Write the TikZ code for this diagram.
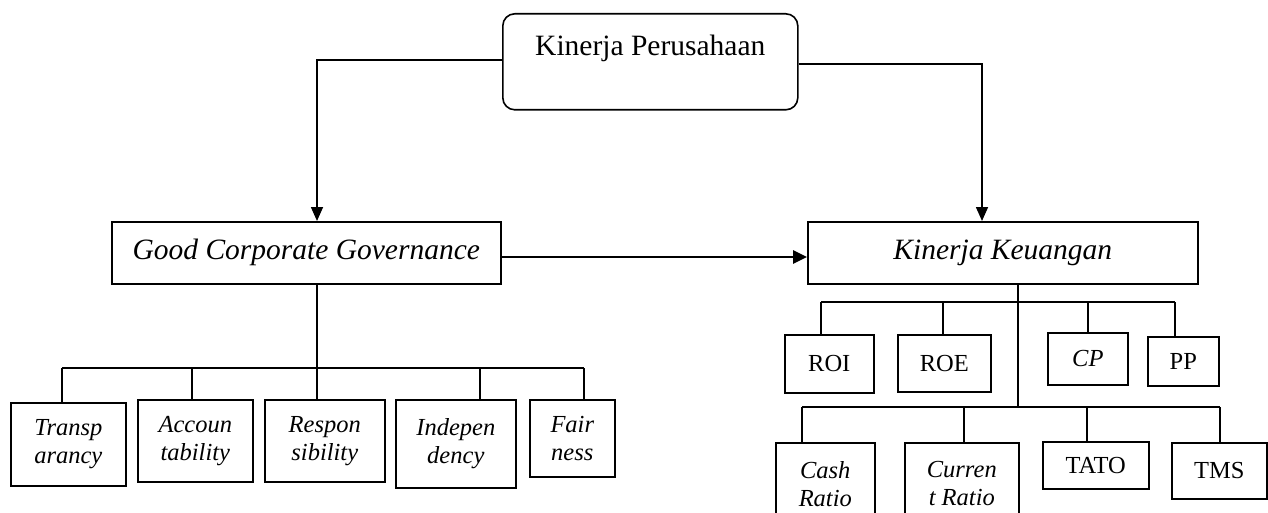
\documentclass[tikz,border=0pt]{standalone}
\usepackage{fontspec}
\setmainfont{Liberation Serif}
\usetikzlibrary{arrows.meta}
\begin{document}
\begin{tikzpicture}[x=1pt,y=-1pt,
  box/.style={draw, line width=1.6pt, inner sep=0pt, anchor=north west, align=center,
    font=\fontsize{24.5}{28}\selectfont},
  itbox/.style={box, font=\fontsize{24.5}{28}\selectfont\itshape},
  big/.style={box, font=\fontsize{29.5}{34}\selectfont\itshape},
  conn/.style={line width=1.6pt},
  arr/.style={conn, -{Triangle[length=14pt,width=12pt]}},
  thickarr/.style={line width=2.6pt, -{Triangle[length=14pt,width=13pt]}},
]
\useasboundingbox (0,0) rectangle (1268,513);
\clip (0,0) rectangle (1268,513);

% top
\node[box, rounded corners=12pt, minimum width=295pt, text height=42pt, text depth=54pt,
  font=\fontsize{29.5}{34}\selectfont] (kp) at (502,13) {Kinerja Perusahaan};
\node[big, minimum width=389pt, minimum height=62pt] (gcg) at (111,221) {Good Corporate Governance};
\node[big, minimum width=390pt, minimum height=62pt] (kk) at (807,221) {Kinerja Keuangan};

% GCG children
\node[itbox, minimum width=115pt, minimum height=83pt] (t1) at (10,402) {Transp\\arancy};
\node[itbox, minimum width=115pt, minimum height=82pt] (t2) at (137,399) {Accoun\\tability};
\node[itbox, minimum width=120pt, minimum height=82pt] (t3) at (264,399) {Respon\\sibility};
\node[itbox, minimum width=120pt, minimum height=88pt] (t4) at (395,399) {Indepen\\dency};
\node[itbox, minimum width=85pt, minimum height=77pt] (t5) at (529,399) {Fair\\ness};

% KK children
\node[box, minimum width=89pt, minimum height=58pt] (roi) at (784,334) {ROI};
\node[box, minimum width=93pt, minimum height=57pt] (roe) at (897,334) {ROE};
\node[itbox, minimum width=80pt, minimum height=52pt] (cp) at (1047,332) {CP};
\node[box, minimum width=71pt, minimum height=49pt] (pp) at (1147,336) {PP};
\node[itbox, minimum width=99pt, minimum height=82pt] (cash) at (775,442) {Cash\\Ratio};
\node[itbox, minimum width=114pt, minimum height=82pt] (curr) at (904,442) {Curren\\t Ratio};
\node[box, minimum width=106pt, minimum height=47pt] (tato) at (1042,441) {TATO};
\node[box, minimum width=95pt, minimum height=56pt] (tms) at (1171,442) {TMS};

% junction coordinates
\coordinate (kl) at (317,60);
\coordinate (kr) at (982,64);
\coordinate (ga) at (500,257);
\coordinate (gj) at (317,368);
\coordinate (g1) at (62,368);
\coordinate (g2) at (192,368);
\coordinate (g4) at (480,368);
\coordinate (g5) at (584,368);
\coordinate (kj1) at (1018,302);
\coordinate (kj2) at (1018,407);
\coordinate (a1) at (821,302);
\coordinate (a2) at (943,302);
\coordinate (a3) at (1088,302);
\coordinate (a4) at (1175,302);
\coordinate (b1) at (802,407);
\coordinate (b2) at (964,407);
\coordinate (b3) at (1087,407);
\coordinate (b4) at (1220,407);

% connectors from top
\draw[arr] (kp.west |- kl) -- (kl) -- (gcg.north -| kl);
\draw[arr] (kp.east |- kr) -- (kr) -- (kk.north -| kr);
\draw[thickarr] (gcg.east |- ga) -- (kk.west |- ga);

% GCG tree
\draw[conn] (gcg.south -| gj) -- (gj) -- (t3.north -| gj);
\draw[conn] (g1) -- (g5);
\draw[conn] (g1) -- (t1.north -| g1);
\draw[conn] (g2) -- (t2.north -| g2);
\draw[conn] (g4) -- (t4.north -| g4);
\draw[conn] (g5) -- (t5.north -| g5);

% KK tree
\draw[conn] (kk.south -| kj1) -- (kj1) -- (kj2);
\draw[conn] (a1) -- (a4);
\draw[conn] (a1) -- (roi.north -| a1);
\draw[conn] (a2) -- (roe.north -| a2);
\draw[conn] (a3) -- (cp.north -| a3);
\draw[conn] (a4) -- (pp.north -| a4);
\draw[conn] (b1) -- (b4);
\draw[conn] (b1) -- (cash.north -| b1);
\draw[conn] (b2) -- (curr.north -| b2);
\draw[conn] (b3) -- (tato.north -| b3);
\draw[conn] (b4) -- (tms.north -| b4);
\end{tikzpicture}
\end{document}
